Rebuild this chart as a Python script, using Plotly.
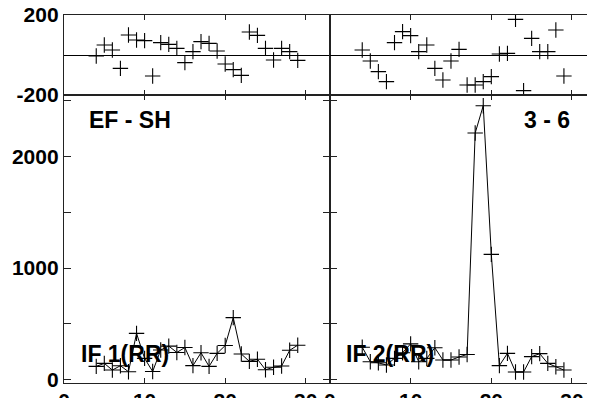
import plotly.graph_objects as go

# ---- data ----
x_vals = list(range(4, 30))

resid_left = [-5, 50, 25, -67, 100, 75, 72, -105, 62, 53, 33, -38, 17,
              67, 58, 20, -45, -73, -102, 115, 98, 33, -25, 33, 17, -27]
if1_left = [118, 145, 85, 124, 70, 414, 190, 72, 265, 300, 243, 287, 125,
            240, 118, 235, 305, 555, 229, 163, 182, 88, 110, 122, 262, 308]

resid_right = [25, -30, -83, -133, 62, 117, 97, 17, 50, -67, -125, -30, 28,
               -150, -150, -133, -108, 5, 8, 178, -178, 83, 17, 17, 125, -105]
if2_right = [290, 160, 150, 130, 190, 240, 320, 160, 190, 285, 175, 175, 202,
             225, 2210, 2455, 1122, 125, 235, 68, 68, 205, 232, 145, 115, 85]

x_ticks = [0, 10, 20, 30]
top_ticks = [-200, 200]
top_ticktext = ["-200", "200"]
bot_ticks = [0, 500, 1000, 1500, 2000, 2500]
bot_ticktext = ["0", "", "1000", "", "2000", ""]

panel_titles = ["EF - SH", "3 - 6"]
series_labels = ["IF 1(RR)", "IF 2(RR)"]

# ---- style ----
FONT = "Liberation Sans, Arial, sans-serif"
LC = "#222222"
marker = dict(symbol="cross-thin", size=11, line=dict(width=1.1, color="black"), color="black")

fig = go.Figure()
fig.add_trace(go.Scatter(x=x_vals, y=resid_left, mode="markers", marker=marker,
                         xaxis="x", yaxis="y", showlegend=False))
fig.add_trace(go.Scatter(x=x_vals, y=if1_left, mode="lines+markers", marker=marker,
                         line=dict(color="black", width=1),
                         xaxis="x2", yaxis="y2", showlegend=False))
fig.add_trace(go.Scatter(x=x_vals, y=resid_right, mode="markers", marker=marker,
                         xaxis="x3", yaxis="y3", showlegend=False))
fig.add_trace(go.Scatter(x=x_vals, y=if2_right, mode="lines+markers", marker=marker,
                         line=dict(color="black", width=1),
                         xaxis="x4", yaxis="y4", showlegend=False))

split = 0.499
ysplit = 0.7826
xr_l = [0, 33]
xr_r = [0, 33.1]
yr_top = [-200, 200]
yr_bot = [-31, 2551]

common = dict(showline=True, linecolor=LC, linewidth=1.3, ticks="inside",
              tickcolor=LC, tickwidth=1, showgrid=False, automargin=False,
              ticklabeloverflow="allow",
              tickfont=dict(family=FONT, size=21, color="black", weight="bold"))
zl = dict(zeroline=True, zerolinecolor="black", zerolinewidth=1)
nzl = dict(zeroline=False)

fig.update_layout(
    template="none",
    width=595, height=398,
    margin=dict(l=56, r=6, t=7, b=23, pad=0),
    plot_bgcolor="white", paper_bgcolor="white",
    xaxis=dict(domain=[0, split], range=xr_l, anchor="y", tickvals=x_ticks,
               showticklabels=False, mirror="ticks", ticklen=5, **common, **nzl),
    yaxis=dict(domain=[ysplit, 1], range=yr_top, anchor="x", tickvals=top_ticks,
               ticktext=top_ticktext, mirror="ticks", ticklen=7, **common, **zl),
    xaxis2=dict(domain=[0, split], range=xr_l, anchor="y2", tickvals=x_ticks,
                mirror="ticks", ticklen=5, ticklabelstandoff=-1, **common, **nzl),
    yaxis2=dict(domain=[0, ysplit], range=yr_bot, anchor="x2", tickvals=bot_ticks,
                ticktext=bot_ticktext, mirror="ticks", ticklen=7, **common, **nzl),
    xaxis3=dict(domain=[split, 1], range=xr_r, anchor="y3", tickvals=x_ticks,
                showticklabels=False, mirror="ticks", ticklen=5, **common, **nzl),
    yaxis3=dict(domain=[ysplit, 1], range=yr_top, anchor="x3", tickvals=top_ticks,
                showticklabels=False, mirror=False, ticklen=7, **common, **zl),
    xaxis4=dict(domain=[split, 1], range=xr_r, anchor="y4", tickvals=x_ticks,
                mirror="ticks", ticklen=5, ticklabelstandoff=-1, **common, **nzl),
    yaxis4=dict(domain=[0, ysplit], range=yr_bot, anchor="x4", tickvals=bot_ticks,
                showticklabels=False, mirror=False, ticklen=7, **common, **nzl),
)

ann_font = dict(family=FONT, size=23, color="black", weight="bold")
fig.add_annotation(text=panel_titles[0], x=2.9, y=2327, xref="x2", yref="y2",
                   xanchor="left", yanchor="middle", showarrow=False, font=ann_font)
fig.add_annotation(text=panel_titles[1], x=30, y=2327, xref="x4", yref="y4",
                   xanchor="right", yanchor="middle", showarrow=False, font=ann_font)
fig.add_annotation(text=series_labels[0], x=1.9, y=229, xref="x2", yref="y2",
                   xanchor="left", yanchor="middle", showarrow=False, font=ann_font)
fig.add_annotation(text=series_labels[1], x=1.8, y=229, xref="x4", yref="y4",
                   xanchor="left", yanchor="middle", showarrow=False, font=ann_font)

fig.write_html("out.html")
